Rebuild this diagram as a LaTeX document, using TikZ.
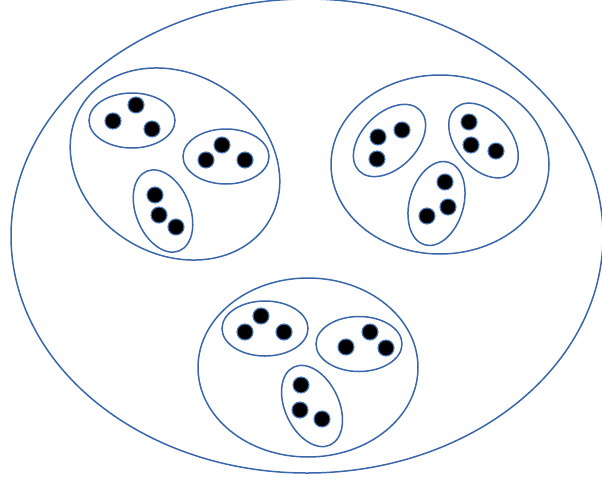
\documentclass[tikz,border=0pt]{standalone}
\usepackage{tikz}
\usetikzlibrary{shapes.geometric}
\definecolor{SetBlue}{HTML}{3A66AA}
\definecolor{DotBlue}{HTML}{4A7CC0}

\begin{document}
\begin{tikzpicture}[x=1pt,y=-1pt,
  every node/.style={ellipse, draw=SetBlue, line width=1.5pt, inner sep=0pt},
  flat/.style={minimum width=86pt, minimum height=55pt},
  tall/.style={minimum width=54pt, minimum height=86pt},
  dot/.style={circle, fill=black, draw=DotBlue, line width=1.1pt, minimum size=16pt}]
  \useasboundingbox (0,0) rectangle (602,480);
  \node[minimum width=592pt, minimum height=474pt] (world) at (307,236) {};
  \node[minimum width=220pt, minimum height=180pt, rotate=-32] (left) at (175,164) {};
  \node[minimum width=218pt, minimum height=179pt] (right) at (440,164.5) {};
  \node[minimum width=220pt, minimum height=179pt] (bottom) at (308,367.5) {};
  \node[flat] (la) at (132,120.5) {};
  \node[flat] (lb) at (226,156.5) {};
  \node[tall, rotate=22] (lc) at (163,211) {};
  \node[flat, rotate=45] (ra) at (389.5,140.5) {};
  \node[flat, rotate=-50] (rb) at (483.5,140.5) {};
  \node[tall, rotate=-16] (rc) at (436.5,203.5) {};
  \node[flat] (ba) at (265,328.5) {};
  \node[flat] (bb) at (359,344) {};
  \node[tall, rotate=25] (bc) at (312,406) {};
  \foreach \n/\x/\y in {la1/113/121, la2/136/105, la3/152/129,
      lb1/206/160, lb2/222/145, lb3/245/160,
      lc1/155/195, lc2/159/215, lc3/176/227,
      ra1/378/137, ra2/402/130, ra3/377/159,
      rb1/469/122, rb2/471/145, rb3/496/151,
      rc1/445/182, rc2/448/207, rc3/427/216,
      ba1/245/332, ba2/261/316, ba3/284/332,
      bb1/346/347, bb2/370/332, bb3/386/348,
      bc1/301/385, bc2/300/410, bc3/322/419} {
    \node[dot] (\n) at (\x,\y) {};
  }
\end{tikzpicture}
\end{document}
